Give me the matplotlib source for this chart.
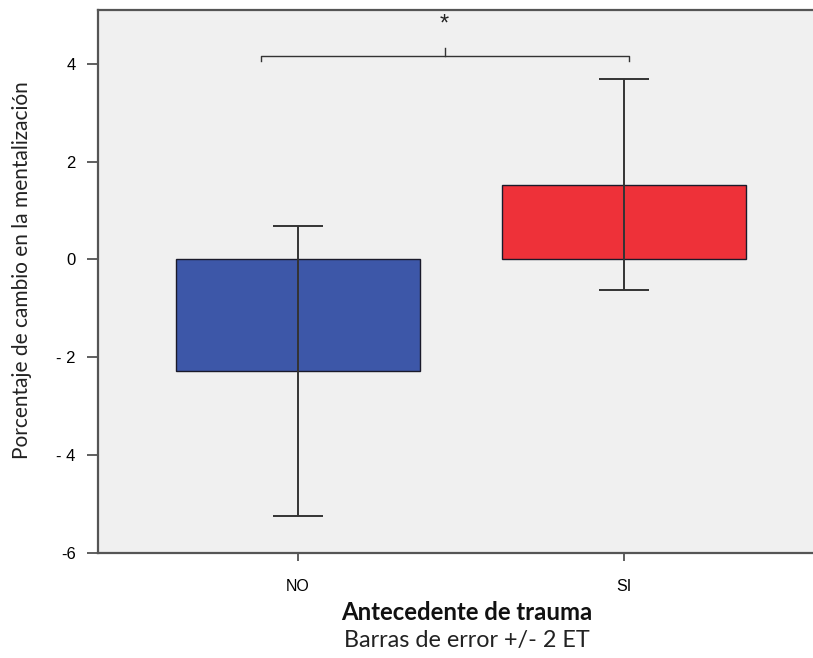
import matplotlib
matplotlib.use("Agg")
import matplotlib.pyplot as plt

# Mean percentage change in mentalization by trauma history, +/- 2 SE
categories = ["NO", "SI"]
means = [-2.28, 1.53]
errors = [2.97, 2.15]
bar_colors = ["#3D57A8", "#EE3139"]
y_ticks = [-6, -4, -2, 0, 2, 4]
y_tick_labels = ["-6", "- 4", "- 2", "0", "2", "4"]

fig = plt.figure(figsize=(8.13, 6.58), dpi=100)
ax = fig.add_axes([98 / 813, 105 / 658, 715 / 813, 543 / 658])
ax.set_facecolor("#F0F0F0")

x = list(range(len(categories)))
ax.bar(x, means, width=0.75, color=bar_colors, edgecolor="#1a1a2a", linewidth=1.0, zorder=2)
ax.errorbar(x, means, yerr=errors, fmt="none",
            ecolor="#333333", elinewidth=1.4, capsize=18, capthick=1.4, zorder=3)

ax.set_xlim(-0.613, 1.58)
ax.set_ylim(-6, 5.1)
ax.set_xticks(x)
ax.set_xticklabels(categories, fontfamily="Liberation Sans", fontsize=11.5)
ax.set_yticks(y_ticks)
ax.set_yticklabels(y_tick_labels, fontfamily="Liberation Sans", fontsize=12)
ax.tick_params(axis="y", length=8, width=1.2, color="#444444", pad=8)
ax.tick_params(axis="x", length=6, width=1.2, color="#444444", pad=13)

for side in ["left", "top", "bottom"]:
    ax.spines[side].set_color("#555555")
    ax.spines[side].set_linewidth(1.6)
ax.spines["right"].set_visible(False)

# Significance bracket
bx0, bx1, by, hook = -0.113, 1.015, 4.16, 0.1
ax.plot([bx0, bx0, bx1, bx1], [by - hook, by, by, by - hook], color="#333333", lw=1.0,
        clip_on=False, zorder=4)
ax.plot([0.45, 0.45], [by, by + 0.16], color="#333333", lw=1.0, zorder=4)
ax.text(0.45, 4.8, "*", ha="center", va="center", fontsize=17, color="#222222",
        fontfamily="Liberation Sans")

fig.text(22 / 813, 1 - 270 / 658, "Porcentaje de cambio en la mentalización",
         rotation=90, ha="center", va="center", fontsize=15, fontfamily="Lato", color="#222222")
fig.text(467 / 813, 1 - 612 / 658, "Antecedente de trauma", ha="center", va="center",
         fontsize=17.2, fontweight="bold", fontfamily="Lato", color="#111111")
fig.text(467 / 813, 1 - 641 / 658, "Barras de error +/- 2 ET", ha="center", va="center",
         fontsize=16.8, fontfamily="Lato", color="#222222")

fig.savefig("out.png", dpi=100, facecolor="white")
